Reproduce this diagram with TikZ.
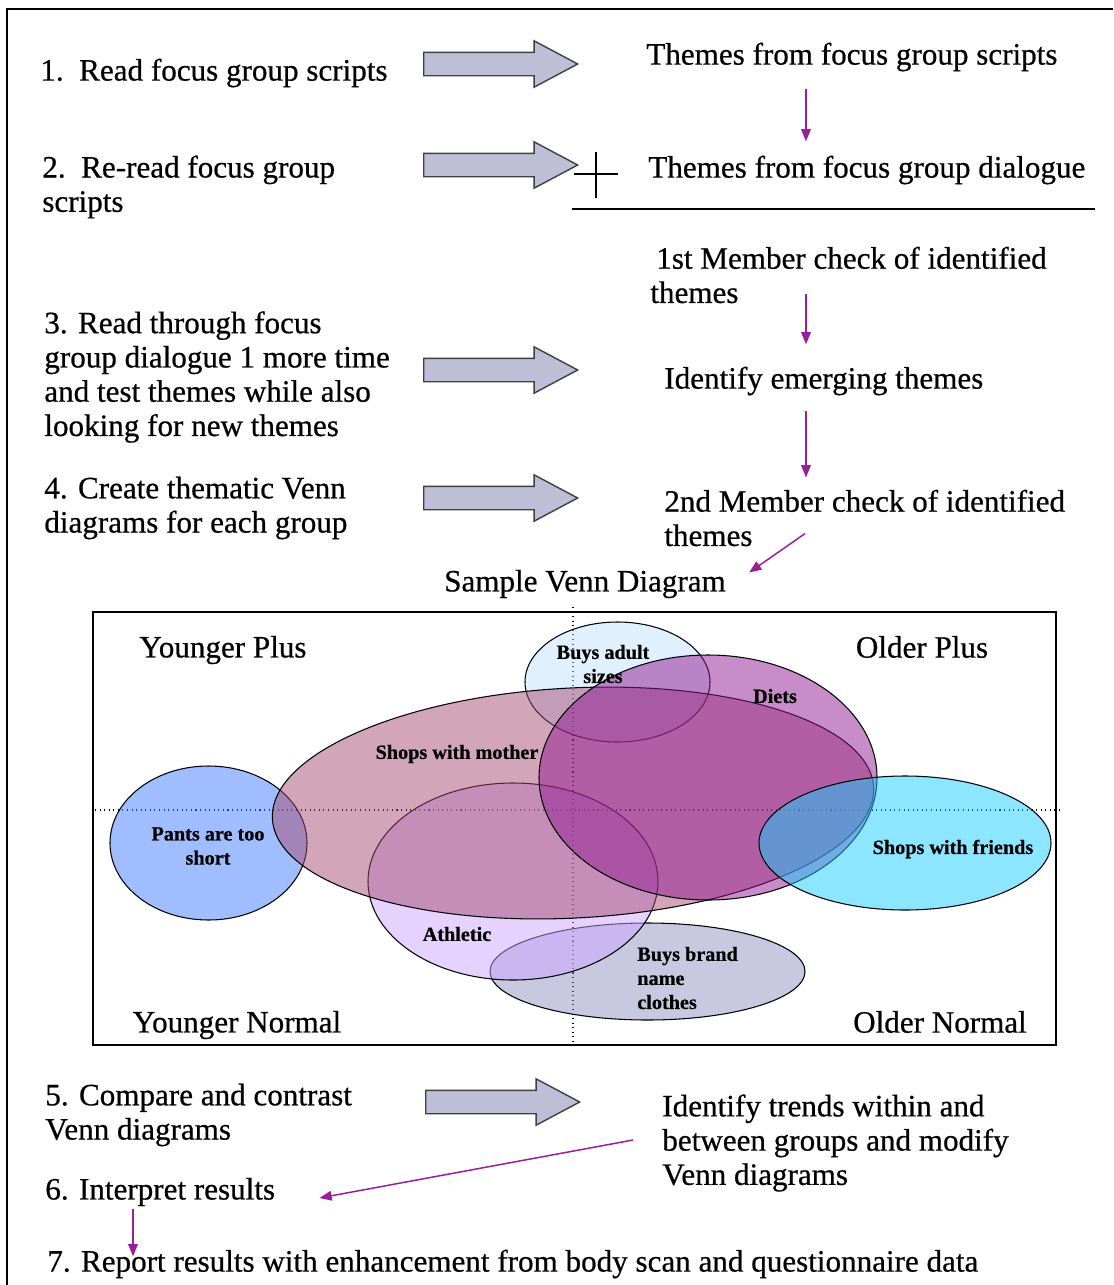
\documentclass[tikz,border=0pt]{standalone}
\usepackage{fontspec}
\setmainfont{Liberation Serif}[FakeBold=0.6]
\usetikzlibrary{arrows.meta, positioning, shapes.arrows}
\definecolor{arrfill}{HTML}{BEBED6}
\definecolor{arrline}{HTML}{404040}
\definecolor{plum}{HTML}{9A1E9A}
\definecolor{pantsblue}{HTML}{417DFF}
\definecolor{mauve}{HTML}{A54B73}
\definecolor{dietpurple}{HTML}{911991}
\definecolor{paleblue}{HTML}{C3E1FF}
\definecolor{lilac}{HTML}{CDA5FF}
\definecolor{greyblue}{HTML}{9191C3}
\definecolor{cyanish}{HTML}{19CDFF}

\begin{document}
\begin{tikzpicture}[x=0.02cm, y=-0.02cm,
  txt/.style={anchor=west, inner sep=0pt, align=left, font=\fontsize{17.7}{19.5}\selectfont},
  bigarr/.style={single arrow, draw=arrline, fill=arrfill, line width=0.8pt, anchor=tail,
    minimum height=3.08cm, minimum width=0.9cm, inner xsep=0pt, inner ysep=0.22cm,
    single arrow head extend=0.23cm, single arrow tip angle=56},
  parr/.style={-{Triangle[length=7pt,width=5.5pt]}, plum, line width=0.85pt},
  venn/.style={draw=black, line width=0.6pt, fill opacity=0.5},
  vlab/.style={inner sep=0pt, align=center, font=\fontsize{11.5}{13.7}\selectfont\bfseries}]
  \useasboundingbox (0,0) rectangle (1113,1285);
  \draw[line width=1.1pt] (7,1285) -- (7,9) -- (1113,9);

  % steps on the left
  \node[txt] (s1) at (40,73)    {1.\ \ Read focus group scripts};
  \node[txt] (s2) at (42,187)   {2.\ \ Re-read focus group\\scripts};
  \node[txt] (s3) at (44,377)   {3. Read through focus\\group dialogue 1 more time\\and test themes while also\\looking for new themes};
  \node[txt] (s4) at (44,508)   {4. Create thematic Venn\\diagrams for each group};
  \node[txt] (s5) at (45,1115)  {5. Compare and contrast\\Venn diagrams};
  \node[txt] (s6) at (45,1192)  {6. Interpret results};
  \node[txt] (s7) at (47,1264)  {7. Report results with enhancement from body scan and questionnaire data};

  % outcomes on the right
  \node[txt] (t1) at (646,57)   {Themes from focus group scripts};
  \node[txt] (t2) at (648,170)  {Themes from focus group dialogue};
  \node[txt] (t3) at (650,275)  {\hspace*{3.4pt}1st Member check of identified\\themes};
  \node[txt] (t4) at (664,381)  {Identify emerging themes};
  \node[txt] (t5) at (664,518)  {2nd Member check of identified\\themes};
  \node[txt,anchor=center] (title) at (585,584) {Sample Venn Diagram};
  \node[txt] (t6) at (662,1143) {Identify trends within and\\between groups and modify\\Venn diagrams};

  % block arrows
  \node[bigarr] (b1) at (423,64)   {};
  \node[bigarr] (b2) at (423,165)  {};
  \node[bigarr] (b3) at (423,370)  {};
  \node[bigarr] (b4) at (423,498)  {};
  \node[bigarr] (b5) at (425,1102) {};

  \draw[line width=0.8pt] (574,174) -- (618,174) (596,152) -- (596,198);
  \draw[line width=0.8pt] (572,209) -- (1095,209);

  \draw[parr] ([shift={(160,17)}]t1.south west) -- ([shift={(158,-14)}]t2.north west);
  \draw[parr] ([shift={(156,-10)}]t3.south west) -- ([shift={(142,-22)}]t4.north west);
  \draw[parr] ([shift={(142,15)}]t4.south west) -- ([shift={(142,-12)}]t5.north west);
  \draw[parr] ([shift={(141,-13)}]t5.south west) -- ([shift={(23,3)}]title.north east);
  \draw[parr] ([shift={(-29,-3)}]t6.west) -- ([shift={(44,6)}]s6.east);
  \draw[parr] ([shift={(88,3)}]s6.south west) -- ([shift={(86,7)}]s7.north west);

  % venn diagram
  \draw[line width=0.8pt] (93,612) rectangle (1056,1045);
  \draw[dotted, line width=0.6pt] (573,607) -- (573,1043);
  \draw[dotted, line width=0.6pt] (95,810) -- (1060,810);
  \draw[venn, fill=greyblue] (647.5,971.5) ellipse [x radius=157.5, y radius=48.5];
  \draw[venn, fill=lilac] (513,881.5) ellipse [x radius=145, y radius=98.5];
  \draw[venn, fill=paleblue] (617.5,682) ellipse [x radius=92.5, y radius=60];
  \draw[venn, fill=pantsblue] (208.5,843) ellipse [x radius=98.5, y radius=77];
  \draw[venn, fill=mauve, rotate around={3:(573,803)}] (573,803) ellipse [x radius=301, y radius=115];
  \draw[venn, fill=dietpurple] (708,777.5) ellipse [x radius=169, y radius=122.5];
  \draw[venn, fill=cyanish] (905,843) ellipse [x radius=146, y radius=67];

  \node[vlab] (adult) at (603,664)   {Buys adult\\sizes};
  \node[vlab] (diet) at (775,696)    {Diets};
  \node[vlab] (mother) at (457,754)  {Shops with mother};
  \node[vlab] (pants) at (208,846)   {Pants are too\\short};
  \node[vlab] (friends) at (953,849) {Shops with friends};
  \node[vlab] (athl) at (457,934)    {Athletic};
  \node[vlab,anchor=west,align=left] (brand) at (637,978) {Buys brand\\name\\clothes};

  \node[txt,anchor=center] (yp) at (223,650)  {Younger Plus};
  \node[txt,anchor=center] (op) at (922,647)  {Older Plus};
  \node[txt,anchor=center] (yn) at (237,1025) {Younger Normal};
  \node[txt,anchor=center] (on) at (940,1022) {Older Normal};
\end{tikzpicture}
\end{document}
